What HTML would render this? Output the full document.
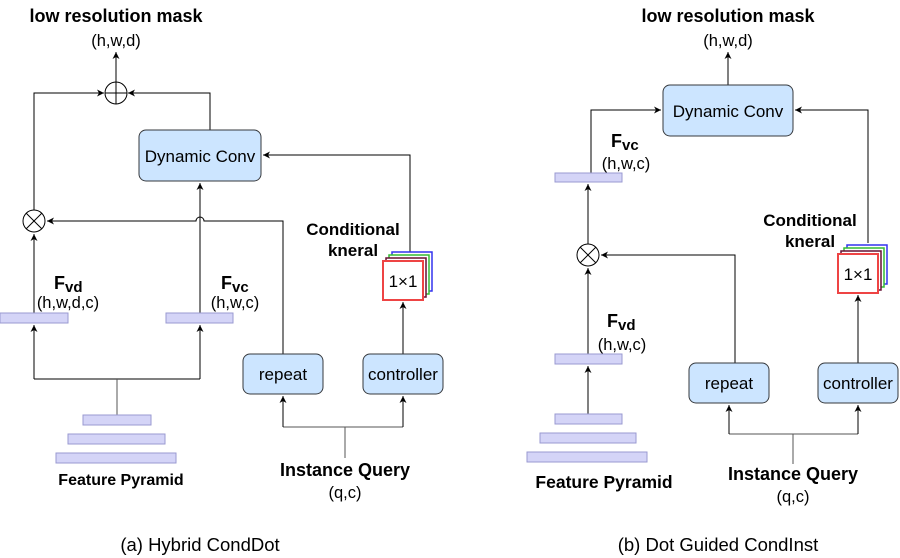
<!DOCTYPE html>
<html><head><meta charset="utf-8"><style>
html,body{margin:0;padding:0;background:#fff}
svg{display:block}
text{font-family:"Liberation Sans",Arial,sans-serif;fill:#000}
.b{font-weight:bold}
</style></head><body>
<svg width="900" height="558" viewBox="0 0 900 558" xmlns="http://www.w3.org/2000/svg">
<defs>
<marker id="a" markerWidth="8" markerHeight="8" refX="7" refY="4" orient="auto" markerUnits="userSpaceOnUse">
<path d="M0,0.5 L7,4 L0,7.5 L2,4 Z" fill="#000"/></marker>
</defs>
<g stroke="#000" stroke-width="1" fill="none">
<line x1="116" y1="82" x2="116" y2="52" marker-end="url(#a)"/>
<circle cx="116" cy="93" r="11"/>
<line x1="116" y1="82" x2="116" y2="104"/><line x1="105" y1="93" x2="127" y2="93"/>
<polyline points="34,210 34,93 104,93" marker-end="url(#a)"/>
<polyline points="210,130 210,93 128,93" marker-end="url(#a)"/>
<circle cx="34" cy="221" r="11"/>
<line x1="26" y1="213" x2="42" y2="229"/><line x1="42" y1="213" x2="26" y2="229"/>
<polyline points="410,252 410,155 263,155" marker-end="url(#a)"/>
<line x1="200" y1="313" x2="200" y2="183" marker-end="url(#a)"/>
<path d="M283,354 L283,221 L204,221 A4,4 0 0 0 196,221 L47,221" marker-end="url(#a)"/>
<line x1="34" y1="313" x2="34" y2="234" marker-end="url(#a)"/>
<polyline points="34,379 200,379"/>
<line x1="34" y1="379" x2="34" y2="325" marker-end="url(#a)"/>
<line x1="200" y1="379" x2="200" y2="325" marker-end="url(#a)"/>
<line x1="117" y1="379" x2="117" y2="415" stroke="#555"/>
<polyline points="283,427 403,427" stroke="#555"/>
<line x1="283" y1="427" x2="283" y2="396" marker-end="url(#a)"/>
<line x1="403" y1="427" x2="403" y2="396" marker-end="url(#a)"/>
<line x1="345" y1="427" x2="345" y2="458" stroke="#555"/>
<line x1="403" y1="354" x2="403" y2="302" marker-end="url(#a)"/>
<line x1="728" y1="85" x2="728" y2="52" marker-end="url(#a)"/>
<polyline points="591,173 591,110 661,110" marker-end="url(#a)"/>
<polyline points="868,243 868,110 795,110" marker-end="url(#a)"/>
<circle cx="588" cy="255" r="11"/>
<line x1="580" y1="247" x2="596" y2="263"/><line x1="596" y1="247" x2="580" y2="263"/>
<line x1="588" y1="244" x2="588" y2="184" marker-end="url(#a)"/>
<polyline points="735,363 735,255 601,255" marker-end="url(#a)"/>
<line x1="588" y1="354" x2="588" y2="268" marker-end="url(#a)"/>
<line x1="588" y1="414" x2="588" y2="366" marker-end="url(#a)"/>
<polyline points="729,434 858,434" stroke="#555"/>
<line x1="729" y1="434" x2="729" y2="405" marker-end="url(#a)"/>
<line x1="858" y1="434" x2="858" y2="405" marker-end="url(#a)"/>
<line x1="793" y1="434" x2="793" y2="464" stroke="#555"/>
<line x1="858" y1="363" x2="858" y2="295" marker-end="url(#a)"/>
</g>
<g fill="#cce5ff" stroke="#36393d" stroke-width="1">
<rect x="139" y="130" width="122" height="51" rx="7"/>
<rect x="243" y="354" width="80" height="40" rx="7"/>
<rect x="363" y="354" width="80" height="40" rx="7"/>
<rect x="663" y="85" width="130" height="51" rx="7"/>
<rect x="689" y="363" width="80" height="40" rx="7"/>
<rect x="818" y="363" width="80" height="40" rx="7"/>
</g>
<g fill="#d4d4f7" stroke="#9a9ad0" stroke-width="1">
<rect x="0" y="313" width="68" height="10"/>
<rect x="166" y="313" width="67" height="10"/>
<rect x="83" y="415" width="68" height="10"/>
<rect x="68" y="434" width="97" height="10"/>
<rect x="56" y="453" width="120" height="10"/>
<rect x="555" y="173" width="67" height="9"/>
<rect x="555" y="354" width="67" height="10"/>
<rect x="555" y="414" width="67" height="10"/>
<rect x="540" y="433" width="96" height="10"/>
<rect x="527" y="452" width="120" height="10"/>
</g>
<g fill="#fff" stroke-width="1.5">
<rect x="392" y="252" width="40" height="39" stroke="#3333ee"/>
<rect x="389" y="255" width="40" height="39" stroke="#33bb33"/>
<rect x="386" y="258" width="40" height="39" stroke="#661133"/>
<rect x="383" y="261" width="40" height="39" stroke="#ee4444" stroke-width="2"/>
<rect x="847" y="245" width="40" height="39" stroke="#3333ee"/>
<rect x="844" y="248" width="40" height="39" stroke="#33bb33"/>
<rect x="841" y="251" width="40" height="39" stroke="#661133"/>
<rect x="838" y="254" width="40" height="39" stroke="#ee4444" stroke-width="2"/>
</g>
<g font-size="16.5">
<text x="116" y="22" text-anchor="middle" class="b" font-size="18">low resolution mask</text>
<text x="116" y="46" text-anchor="middle">(h,w,d)</text>
<text x="200" y="162" text-anchor="middle" font-size="17">Dynamic Conv</text>
<text x="283" y="380" text-anchor="middle" font-size="17">repeat</text>
<text x="403" y="380" text-anchor="middle" font-size="17">controller</text>
<text x="403" y="287" text-anchor="middle" font-size="17">1×1</text>
<text x="353" y="235" text-anchor="middle" class="b" font-size="17">Conditional</text>
<text x="353" y="256" text-anchor="middle" class="b" font-size="17">kneral</text>
<text x="54" y="289" class="b" font-size="18">F<tspan font-size="15" dy="3">vd</tspan></text>
<text x="68" y="308" text-anchor="middle">(h,w,d,c)</text>
<text x="221" y="289" class="b" font-size="18">F<tspan font-size="15" dy="3">vc</tspan></text>
<text x="235" y="308" text-anchor="middle">(h,w,c)</text>
<text x="121" y="485" text-anchor="middle" class="b" font-size="16">Feature Pyramid</text>
<text x="345" y="476" text-anchor="middle" class="b" font-size="18">Instance Query</text>
<text x="345" y="498" text-anchor="middle">(q,c)</text>
<text x="200" y="551" text-anchor="middle" font-size="18.5">(a) Hybrid CondDot</text>

<text x="728" y="22" text-anchor="middle" class="b" font-size="18">low resolution mask</text>
<text x="728" y="46" text-anchor="middle">(h,w,d)</text>
<text x="728" y="117" text-anchor="middle" font-size="17">Dynamic Conv</text>
<text x="729" y="389" text-anchor="middle" font-size="17">repeat</text>
<text x="858" y="389" text-anchor="middle" font-size="17">controller</text>
<text x="858" y="280" text-anchor="middle" font-size="17">1×1</text>
<text x="810" y="226" text-anchor="middle" class="b" font-size="17">Conditional</text>
<text x="810" y="247" text-anchor="middle" class="b" font-size="17">kneral</text>
<text x="611" y="147" class="b" font-size="18">F<tspan font-size="15" dy="3">vc</tspan></text>
<text x="626" y="169" text-anchor="middle">(h,w,c)</text>
<text x="607" y="327" class="b" font-size="18">F<tspan font-size="15" dy="3">vd</tspan></text>
<text x="622" y="350" text-anchor="middle">(h,w,c)</text>
<text x="604" y="488" text-anchor="middle" class="b" font-size="17.5">Feature Pyramid</text>
<text x="793" y="480" text-anchor="middle" class="b" font-size="18">Instance Query</text>
<text x="793" y="502" text-anchor="middle">(q,c)</text>
<text x="718" y="551" text-anchor="middle" font-size="18.5">(b) Dot Guided CondInst</text>
</g>
</svg>
</body></html>
